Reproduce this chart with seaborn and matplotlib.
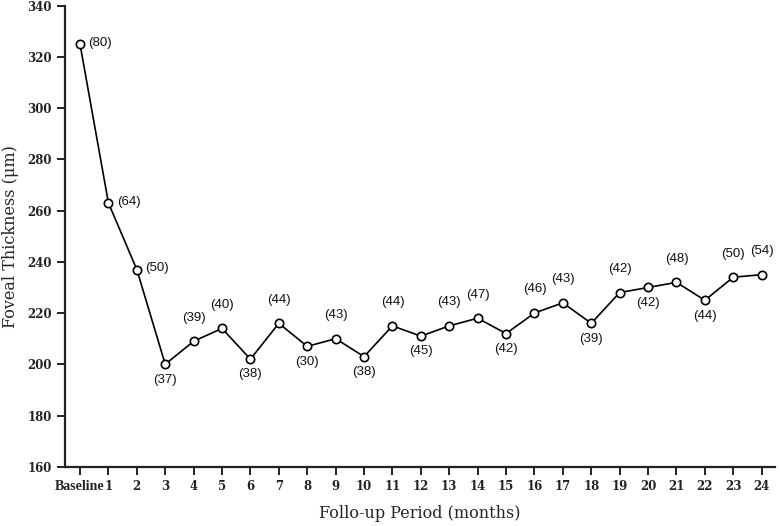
import matplotlib
matplotlib.use("Agg")
import matplotlib.pyplot as plt
import seaborn as sns
import pandas as pd

tick_labels = ["Baseline", "1", "2", "3", "4", "5", "6", "7", "8", "9", "10", "11", "12",
               "13", "14", "15", "16", "17", "18", "19", "20", "21", "22", "23", "24"]
thickness = [325, 263, 237, 200, 209, 214, 202, 216, 207, 210, 203, 215, 211,
             215, 218, 212, 220, 224, 216, 228, 230, 232, 225, 234, 235]
counts = [80, 64, 50, 37, 39, 40, 38, 44, 30, 43, 38, 44, 45,
          43, 47, 42, 46, 43, 39, 42, 42, 48, 44, 50, 54]
label_pos = ["r", "r", "r", "b", "a", "a", "b", "a", "b", "a", "b", "a", "b",
             "a", "a", "b", "a", "a", "b", "a", "b", "a", "b", "a", "a"]

sns.set_style("ticks")
plt.rcParams['font.family'] = ['DejaVu Serif']

df = pd.DataFrame({"month": list(range(len(tick_labels))), "thickness": thickness})

fig = plt.figure(figsize=(7.8, 5.26), dpi=100)
ax = fig.add_axes([0.0833, 0.1127, 0.9103, 0.8763])

sns.lineplot(data=df, x="month", y="thickness", ax=ax, color="black", linewidth=1.2,
             marker="o", markersize=6, markerfacecolor="white", markeredgecolor="black",
             markeredgewidth=1.2)

lab_kw = dict(textcoords="offset points", va="center", fontsize=9.5,
              family="Liberation Sans", color="#111111")
for x, y, c, p in zip(df["month"], thickness, counts, label_pos):
    txt = f"({c})"
    if p == "r":
        ax.annotate(txt, (x, y), xytext=(6, 1), ha="left", **lab_kw)
    elif p == "a":
        ax.annotate(txt, (x, y), xytext=(0, 17), ha="center", **lab_kw)
    else:
        ax.annotate(txt, (x, y), xytext=(0, -11), ha="center", **lab_kw)

ax.set_xlim(-0.53, 24.47)
ax.set_ylim(160, 340)
ax.set_yticks(range(160, 341, 20))
ax.set_xticks(range(len(tick_labels)))
ax.set_xticklabels(tick_labels)
for s in ["top", "right"]:
    ax.spines[s].set_visible(False)
for s in ["left", "bottom"]:
    ax.spines[s].set_linewidth(1.6)
    ax.spines[s].set_color("#222222")
ax.tick_params(axis="both", direction="out", length=6, width=1.4, colors="#222222",
               labelsize=8.5)
for lbl in ax.get_xticklabels() + ax.get_yticklabels():
    lbl.set_fontweight("bold")
b = ax.get_xticklabels()[0]
b.set_fontfamily("Liberation Serif")
b.set_fontsize(10)
ax.set_xlabel("Follo-up Period (months)", fontsize=11.5, labelpad=9)
ax.set_ylabel("Foveal Thickness (μm)", fontsize=11.5, labelpad=6)
ax.grid(False)

fig.savefig("out.png", dpi=100)
